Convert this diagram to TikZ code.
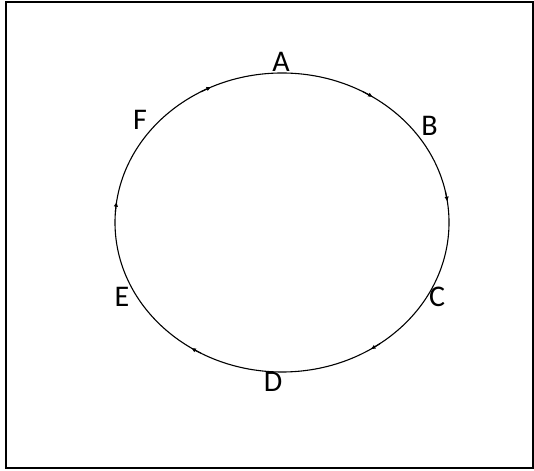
\documentclass[tikz,border=0pt]{standalone}
\usepackage{fontspec}
\setmainfont{Carlito}
\usetikzlibrary{arrows.meta}

\begin{document}
\begin{tikzpicture}[x=1pt, y=1pt, font=\fontsize{30}{36}\selectfont]
    \tikzstyle{frame}=[draw=black, line width=2pt]
    \tikzstyle{ring}=[draw=black, line width=1.1pt]
    \tikzstyle{tip}=[draw=black, line width=1.1pt, -{Latex[length=5pt, width=4.5pt]}]
    \tikzstyle{lbl}=[inner sep=0pt]

    \useasboundingbox (0,0) rectangle (534,470);
    \draw[frame] (6,2) rectangle (533,468);

    \coordinate (o) at (282,247.5);
    \draw[ring] (o) ellipse [x radius=167, y radius=149.5];

    % clockwise direction marks
    \foreach \t in {8, 57, 115, 172, 237, 302} {
        \draw[tip] (o) ++(\t+4:167 and 149.5)
            arc[start angle=\t+4, end angle=\t, x radius=167, y radius=149.5];
    }

    \node[lbl] (A) at (281,408) {A};
    \node[lbl] (B) at (429.5,344) {B};
    \node[lbl] (C) at (437,173) {C};
    \node[lbl] (D) at (273,88) {D};
    \node[lbl] (E) at (122,173) {E};
    \node[lbl] (F) at (140,350) {F};
\end{tikzpicture}
\end{document}
